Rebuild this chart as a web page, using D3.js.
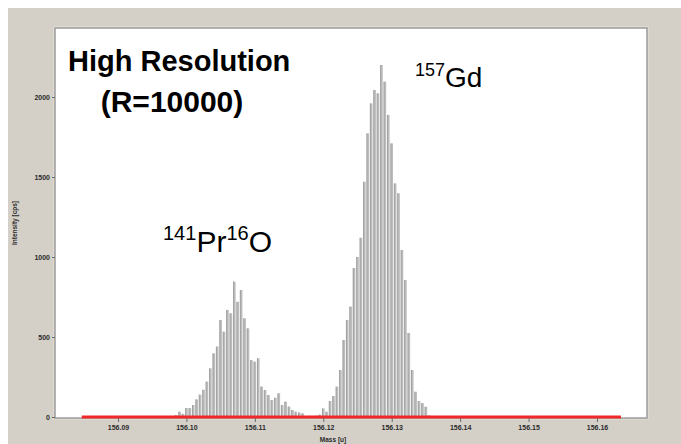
<!DOCTYPE html>
<html>
<head>
<meta charset="utf-8">
<script src="https://cdn.jsdelivr.net/npm/d3@7"></script>
<style>
  html, body { margin: 0; padding: 0; background: #ffffff; }
  svg { display: block; }
  .tick text { font-family: "Liberation Sans", Arial, sans-serif; font-weight: bold; fill: #2a2a2a; }
</style>
</head>
<body>
<svg id="chart" width="681" height="444"></svg>
<script>
// Mass channels of the scan (u)
const masses = [
  156.0975, 156.0980, 156.0985, 156.0990, 156.0995, 156.1000, 156.1005, 156.1010,
  156.1015, 156.1020, 156.1025, 156.1030, 156.1035, 156.1040, 156.1045, 156.1050,
  156.1055, 156.1060, 156.1065, 156.1070, 156.1075, 156.1080, 156.1085, 156.1090,
  156.1095, 156.1100, 156.1105, 156.1110, 156.1115, 156.1120, 156.1125, 156.1130,
  156.1135, 156.1140, 156.1145, 156.1150, 156.1155, 156.1160, 156.1165, 156.1170,
  156.1175, 156.1180, 156.1185, 156.1190, 156.1195, 156.1200, 156.1205, 156.1210,
  156.1215, 156.1220, 156.1225, 156.1230, 156.1235, 156.1240, 156.1245, 156.1250,
  156.1255, 156.1260, 156.1265, 156.1270, 156.1275, 156.1280, 156.1285, 156.1290,
  156.1295, 156.1300, 156.1305, 156.1310, 156.1315, 156.1320, 156.1325, 156.1330,
  156.1335, 156.1340, 156.1345, 156.1350, 156.1355, 156.1360
];

// Measured intensity per channel (cps)
const intensities = [
  0, 4, 12, 33, 20, 56, 56, 75,
  110, 140, 170, 221, 304, 398, 440, 606,
  533, 669, 648, 846, 720, 794, 617, 554,
  356, 346, 367, 190, 169, 137, 106, 120,
  148, 75, 96, 65, 44, 33, 28, 23,
  5, 8, 3, 8, 15, 54, 33, 100,
  131, 190, 294, 481, 606, 690, 931, 1000,
  1120, 1470, 1773, 1960, 2044, 2023, 2200, 2096,
  1888, 1710, 1460, 1398, 1044, 856, 525, 294,
  158, 100, 87, 64, 10, 0
];

// Axis ticks
const xTicks = [156.09, 156.10, 156.11, 156.12, 156.13, 156.14, 156.15, 156.16];
const yTicks = [0, 500, 1000, 1500, 2000];

// Baseline drawn across the scan window (u)
const baselineRange = [156.0847, 156.1635];

const svg = d3.select("#chart");

// window background
svg.append("rect")
  .attr("x", 8).attr("y", 8).attr("width", 673).attr("height", 436)
  .attr("fill", "#d4d0c8");

// plot panel
const panel = { left: 55, top: 28, right: 647, bottom: 418 };
svg.append("rect")
  .attr("x", panel.left - 1).attr("y", panel.top - 1)
  .attr("width", panel.right - panel.left + 2).attr("height", panel.bottom - panel.top + 2)
  .attr("fill", "none").attr("stroke", "#e6e3dc").attr("stroke-width", 1);
svg.append("rect")
  .attr("x", panel.left).attr("y", panel.top)
  .attr("width", panel.right - panel.left).attr("height", panel.bottom - panel.top)
  .attr("fill", "#ffffff").attr("stroke", "#9c9c9c").attr("stroke-width", 1.5);

const x = d3.scaleLinear().domain([156.09, 156.16]).range([118, 597]);
const y = d3.scaleLinear().domain([0, 2000]).range([417, 97]);

// spectrum bars
const barW = 2.6;
svg.append("g")
  .selectAll("rect")
  .data(masses)
  .join("rect")
  .attr("x", (m) => x(m) - barW / 2)
  .attr("y", (m, i) => y(intensities[i]))
  .attr("width", barW)
  .attr("height", (m, i) => y(0) - y(intensities[i]))
  .attr("fill", "#bdbdbd");

// darker left edge of every bar
svg.append("g")
  .selectAll("line")
  .data(masses)
  .join("line")
  .attr("x1", (m) => x(m) - barW / 2 + 0.5)
  .attr("x2", (m) => x(m) - barW / 2 + 0.5)
  .attr("y1", (m, i) => y(intensities[i]))
  .attr("y2", y(0))
  .attr("stroke", "#9a9a9a")
  .attr("stroke-width", 0.8);

// zero baseline
svg.append("line")
  .attr("x1", x(baselineRange[0])).attr("x2", x(baselineRange[1]))
  .attr("y1", y(0)).attr("y2", y(0))
  .attr("stroke", "#f0282a").attr("stroke-width", 3);

// x axis
const xAxis = svg.append("g")
  .attr("transform", `translate(0,${panel.bottom})`)
  .call(d3.axisBottom(x).tickValues(xTicks).tickFormat(d3.format(".2f")).tickSize(4).tickPadding(3));
xAxis.select(".domain").remove();
xAxis.selectAll(".tick line").attr("stroke", "#6a6a6a");
xAxis.selectAll(".tick text").attr("font-size", 7);

// y axis
const yAxis = svg.append("g")
  .attr("transform", `translate(${panel.left},0)`)
  .call(d3.axisLeft(y).tickValues(yTicks).tickFormat(d3.format("d")).tickSize(3).tickPadding(2));
yAxis.select(".domain").remove();
yAxis.selectAll(".tick line").attr("stroke", "#6a6a6a");
yAxis.selectAll(".tick text").attr("font-size", 7);

// axis titles
svg.append("text")
  .attr("x", 333).attr("y", 442)
  .attr("text-anchor", "middle")
  .attr("font-family", "Liberation Sans, Arial, sans-serif")
  .attr("font-weight", "bold").attr("font-size", 6.5).attr("fill", "#2a2a2a")
  .text("Mass [u]");
svg.append("text")
  .attr("transform", "translate(17,223) rotate(-90)")
  .attr("text-anchor", "middle")
  .attr("font-family", "Liberation Sans, Arial, sans-serif")
  .attr("font-weight", "bold").attr("font-size", 6.5).attr("fill", "#2a2a2a")
  .text("Intensity [cps]");

// title block
const titleFont = "Liberation Sans, Arial, sans-serif";
svg.append("text")
  .attr("x", 68).attr("y", 71)
  .attr("font-family", titleFont).attr("font-weight", "bold").attr("font-size", 29)
  .attr("fill", "#000")
  .text("High Resolution");
svg.append("text")
  .attr("x", 172).attr("y", 112)
  .attr("text-anchor", "middle")
  .attr("font-family", titleFont).attr("font-weight", "bold").attr("font-size", 30)
  .attr("fill", "#000")
  .text("(R=10000)");

// peak labels with isotope mass superscripts
function isotopeLabel(xPos, yPos, supSize, mainSize, parts) {
  const t = svg.append("text")
    .attr("x", xPos).attr("y", yPos)
    .attr("font-family", titleFont).attr("fill", "#000");
  parts.forEach((p) => {
    t.append("tspan")
      .attr("font-size", p.sup ? supSize : mainSize)
      .attr("baseline-shift", p.sup ? "60%" : "0%")
      .text(p.text);
  });
}
isotopeLabel(415, 87, 18, 28, [{ text: "157", sup: true }, { text: "Gd" }]);
isotopeLabel(163, 252, 20, 30, [{ text: "141", sup: true }, { text: "Pr" }, { text: "16", sup: true }, { text: "O" }]);
</script>
</body>
</html>
